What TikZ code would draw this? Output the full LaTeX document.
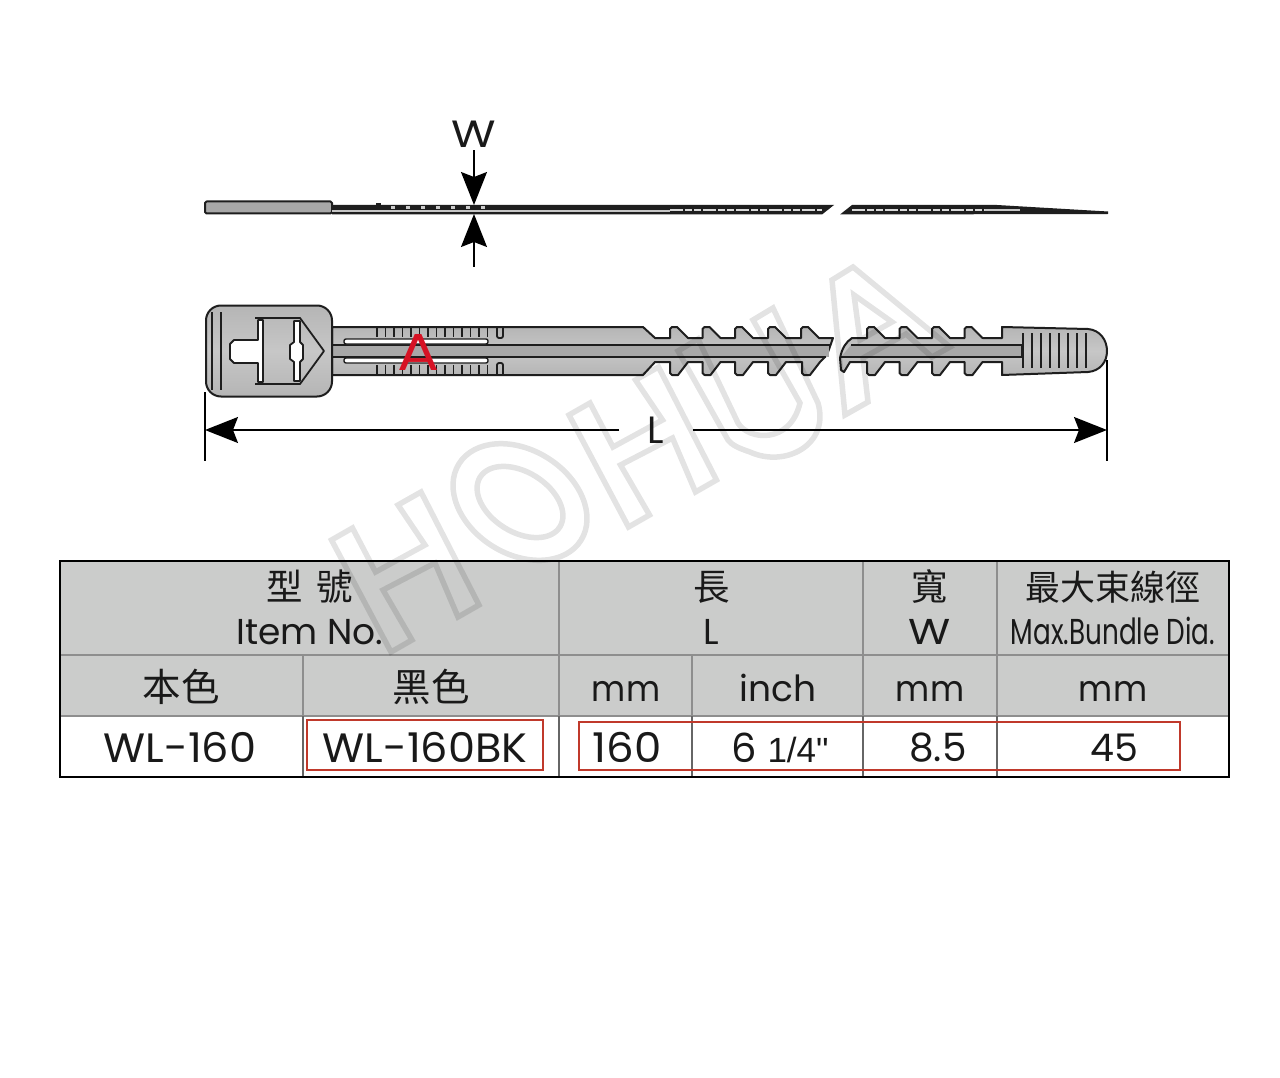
\documentclass[tikz,border=0pt]{standalone}
\usepackage{fontspec}
\setmainfont{Poppins}
\newfontfamily\cjk{Noto Sans CJK TC}
\newfontfamily\arial{Liberation Sans}
\usetikzlibrary{arrows.meta}
\definecolor{outl}{HTML}{1E1E1E}
\definecolor{headgray}{HTML}{CBCCCB}
\definecolor{gridgray}{HTML}{8E8E8E}
\definecolor{boxred}{HTML}{C0392B}
\definecolor{bandgray}{HTML}{A8A8A8}
\tikzset{
  dimline/.style={line width=1.5pt, black},
  dimarrow/.style={dimline, -{Stealth[length=33pt, width=26pt, inset=5pt]}},
  tiebody/.style={draw=outl, line width=2pt, line join=round, top color=gray!58, bottom color=gray!58, middle color=gray!44},
  tieline/.style={outl, line width=1.8pt},
  lbl/.style={inner sep=0pt, anchor=base, text=black!90, font=\fontsize{36}{36}\selectfont},
  rowlbl/.style={lbl, font=\fontsize{41}{41}\selectfont},
  cjklbl/.style={inner sep=0pt, text=black!90, font=\fontsize{36.5}{36.5}\selectfont\cjk},
  redbox/.style={draw=boxred, line width=2.8pt},
  wmark/.style={draw=black, draw opacity=0.11, line width=5.5pt, line join=miter}
}
% teeth of the strap, #1 is the left edge
\newcommand{\toptooth}[1]{
  -- (#1,338) -- (#1,329) -- (#1+2,327) -- (#1+7,327) -- (#1+18,338)
}
\newcommand{\bottooth}[1]{
  -- (#1+18,362) -- (#1+8,375) -- (#1+2,375) -- (#1,373) -- (#1,362)
}
\newcommand{\wmH}[2]{
  \draw[wmark, shift={(#1,#2)}] (331.5,540) -- (352.5,528) -- (375.5,572) -- (425,545)
  -- (398,505) -- (421,492) -- (479,605) -- (458,617) -- (435,563) -- (383,590)
  -- (412,640) -- (391,652) -- cycle;
}
\newcommand{\tblrow}[5]{
  \fill[#5] (#1,#2) rectangle (#3,#4);
}
\begin{document}
\begin{tikzpicture}[x=1pt, y=-1pt]
  \useasboundingbox (0,0) rectangle (1280,1078);
  \fill[white] (0,0) rectangle (1280,1078);

  % SIDE VIEW
  % =========

  \fill[outl] (332,205) -- (834,205) -- (822,214.5) -- (332,214.5) -- cycle;
  \fill[outl] (852,205) -- (997,205) -- (1108,211.5) -- (1108,214) -- (840,214.5) -- cycle;
  \draw[tiebody, top color=gray!68, bottom color=gray!68, middle color=gray!68, rounded corners=1.5pt] (205,201.5) rectangle (332,213.5);
  \draw[gray!45, line width=2pt] (332,210.8) -- (670,210.8);
  \draw[gray!30, line width=2.4pt, dash pattern=on 13pt off 2pt on 7pt off 2pt on 7pt off 2pt] (670,210.3) -- (822,210.3);
  \draw[gray!30, line width=2.4pt, dash pattern=on 13pt off 2pt on 7pt off 2pt on 7pt off 2pt] (852,210.3) -- (985,210.3);
  \draw[gray!45, line width=2.2pt] (985,210.3) -- (1020,210.3);

  % ribs on the strap
  \fill[outl] (376,203) rectangle (381,206);
  \foreach \x in {393, 408, ..., 483}
  \fill[gray!40] (\x-2,206.5) rectangle (\x+2,209.5);

  % W
  \node[inner sep=3pt, xscale=1.2, text=black!90, font=\fontsize{38}{38}\selectfont] (wlabel) at (474,134) {W};
  \coordinate (wupper) at (474,205);
  \coordinate (wlowstart) at (474,267);
  \coordinate (wlower) at (474,214);
  \draw[dimarrow] (wlabel.south) -- (wupper);
  \draw[dimarrow] (wlowstart) -- (wlower);

  % FRONT VIEW
  % ==========

  % Strap
  % -----

  \draw[tiebody] (332,327) -- (643,327) -- (655,338)
  \toptooth{670} \toptooth{702.5} \toptooth{735} \toptooth{768} \toptooth{801}
  -- (833,338) -- (827,355) -- (820,362)
  \bottooth{802} \bottooth{768} \bottooth{735} \bottooth{702.5} \bottooth{670}
  -- (655,362) -- (643,375) -- (332,375) -- cycle;

  \fill[bandgray] (332,345) rectangle (829,357);
  \draw[tieline] (332,345) -- (830,345);
  \draw[tieline] (332,357) -- (826,357);

  % slots
  \foreach \y in {339, 358}
  \draw[fill=white, draw=outl, line width=1.4pt, rounded corners=2pt] (344,\y) rectangle (488,\y+5);

  % ticks
  \foreach \x in {377, 385.5, ..., 488} {
    \draw[outl, line width=1.8pt] (\x,327) -- (\x,337);
    \draw[outl, line width=1.8pt] (\x,365) -- (\x,375);
  }
  \draw[tieline, rounded corners=2pt] (497,327) -- (497,338) -- (503,338) -- (503,327);
  \draw[tieline, rounded corners=2pt] (497,375) -- (497,363) -- (503,363) -- (503,375);

  % Tail
  % ----

  \draw[tiebody] (840,358) .. controls (842,348) and (846,342) .. (852,338)
  \toptooth{867} \toptooth{899.5} \toptooth{932} \toptooth{964.5}
  -- (1002,338) -- (1002,327) -- (1088,329)
  .. controls (1100,330) and (1107,340) .. (1107,351)
  .. controls (1107,362) and (1100,371) .. (1088,372)
  -- (1002,375) -- (1002,362) -- (983,362)
  \bottooth{964.5} \bottooth{932} \bottooth{899.5} \bottooth{867}
  -- (850,362) -- (844,372) -- (841,370) -- cycle;

  \fill[bandgray] (851,345) -- (1022,345) -- (1022,357) -- (841,357) -- cycle;
  \draw[tieline] (851,345) -- (1022,345) -- (1022,357) -- (841,357);
  \foreach \x in {1032, 1041, ..., 1086}
  \draw[tieline] (\x,333) -- (\x,368);
  \draw[tieline] (1023,333) -- (1023,368);

  % Head
  % ----

  \draw[tiebody, rounded corners=15pt] (206,305.5) rectangle (332,396.5);
  \draw[tieline] (212,312) -- (212,390);
  \draw[tieline] (221,312) -- (221,390);

  % window
  \draw[tieline, fill=white, line join=round] (263,320) -- (258,320) -- (258,340) -- (234,340) -- (230,344)
  -- (230,359) -- (234,363) -- (258,363) -- (258,382) -- (263,382) -- cycle;
  \draw[tieline, fill=white, line join=round] (294,321) -- (294,342) -- (290,345) -- (290,359) -- (294,362)
  -- (294,381) -- (300,381) -- (300,362) -- (303,359) -- (303,345) -- (300,342) -- (300,321) -- cycle;
  \draw[tieline, line join=round] (255,318) -- (300,318) -- (324,351) -- (300,384) -- (255,384);

  % Red mark
  \node[inner sep=0pt, xscale=1.2, text={rgb,255:red,214;green,18;blue,36}, font=\fontsize{52}{52}\selectfont] (amark) at (419,352) {A};

  % L
  \node[inner sep=0pt, minimum width=73pt, text=black!90, font=\fontsize{38}{38}\selectfont] (llabel) at (656,430) {L};
  \coordinate (lleft) at (205,430);
  \coordinate (lright) at (1107,430);
  \draw[dimarrow] (llabel.west) -- (lleft);
  \draw[dimarrow] (llabel.east) -- (lright);
  \draw[dimline] (205,392) -- (205,461);
  \draw[dimline] (1107,360) -- (1107,461);

  % TABLE
  % =====

  \tblrow{60}{561}{1229}{716}{headgray}

  \foreach \y in {655, 716}
  \draw[gridgray, line width=1.5pt] (60,\y) -- (1229,\y);
  \foreach \x in {559, 863, 997}
  \draw[gridgray, line width=1.2pt] (\x,561) -- (\x,716);
  \foreach \x in {303, 692}
  \draw[gridgray, line width=1.2pt] (\x,655) -- (\x,716);
  \foreach \x in {303, 559, 692, 863, 997}
  \draw[black!60, line width=1.2pt] (\x,716) -- (\x,777);

  \draw[black, line width=2pt] (60,561) rectangle (1229,777);

  % Marked cells
  % ------------

  \draw[redbox] (307,720) rectangle (543,770);
  \draw[redbox] (579,722) rectangle (1180,770);

  % Texts
  % -----

  \node[cjklbl] (xinghao) at (310,587) {型\hspace{14pt}號};
  \node[cjklbl] (chang) at (712,587) {長};
  \node[cjklbl] (kuan) at (930,587) {寬};
  \node[cjklbl, font=\fontsize{35}{35}\selectfont\cjk] (bundle) at (1113,587) {最大束線徑};

  \node[lbl] (itemno) at (310,644) {Item No.};
  \node[lbl] (ltitle) at (711,644) {L};
  \node[lbl, xscale=1.2] (wtitle) at (930,644) {W};
  \node[lbl, xscale=0.73] (maxdia) at (1113,644) {Max.Bundle Dia.};

  \node[cjklbl, font=\fontsize{38.5}{38.5}\selectfont\cjk] (natural) at (181,687) {本色};
  \node[cjklbl, font=\fontsize{38.5}{38.5}\selectfont\cjk] (blackc) at (431,687) {黑色};
  \node[lbl, xscale=0.92] (mma) at (626,701) {mm};
  \node[lbl] (inch) at (778,701) {inch};
  \node[lbl, xscale=0.92] (mmb) at (930,701) {mm};
  \node[lbl, xscale=0.92] (mmc) at (1113,701) {mm};

  \node[rowlbl, xscale=1.05] (wlplain) at (180,762) {WL-160};
  \node[rowlbl, xscale=1.05] (wlblack) at (425,762) {WL-160BK};
  \node[rowlbl, xscale=1.06] (lenmm) at (627,762) {160};
  \node[lbl, font=\fontsize{40}{40}\selectfont] (leninch) at (780,762) {6 {\arial\fontsize{35}{35}\selectfont 1/4"}};
  \node[lbl, font=\fontsize{39}{39}\selectfont] (widmm) at (938,761) {8.5};
  \node[lbl, font=\fontsize{38}{38}\selectfont] (diamm) at (1114,761) {45};

  % WATERMARK
  % =========

  \wmH{0}{0}
  \wmH{237.5}{-125}
  \draw[wmark, rotate around={-32:(520,502)}] (520,502) ellipse (72pt and 52pt);
  \draw[wmark, rotate around={-32:(520,502)}] (520,502) ellipse (47pt and 30pt);
  \draw[wmark] (678,351) -- (698,339) -- (738,423) .. controls (748,440) and (790,445) .. (800,403)
  -- (753,320) -- (773,308) -- (818,403) .. controls (830,445) and (785,468) .. (750,452)
  .. controls (738,448) and (732,445) .. (728,440) -- cycle;
  \draw[wmark] (845,415) -- (868,402) -- (863,358) -- (906,334) -- (932,357) -- (950,347)
  -- (853,267) -- (832,280) -- cycle;
  \draw[wmark] (854,295) -- (860,340) -- (892,322) -- cycle;
\end{tikzpicture}
\end{document}
